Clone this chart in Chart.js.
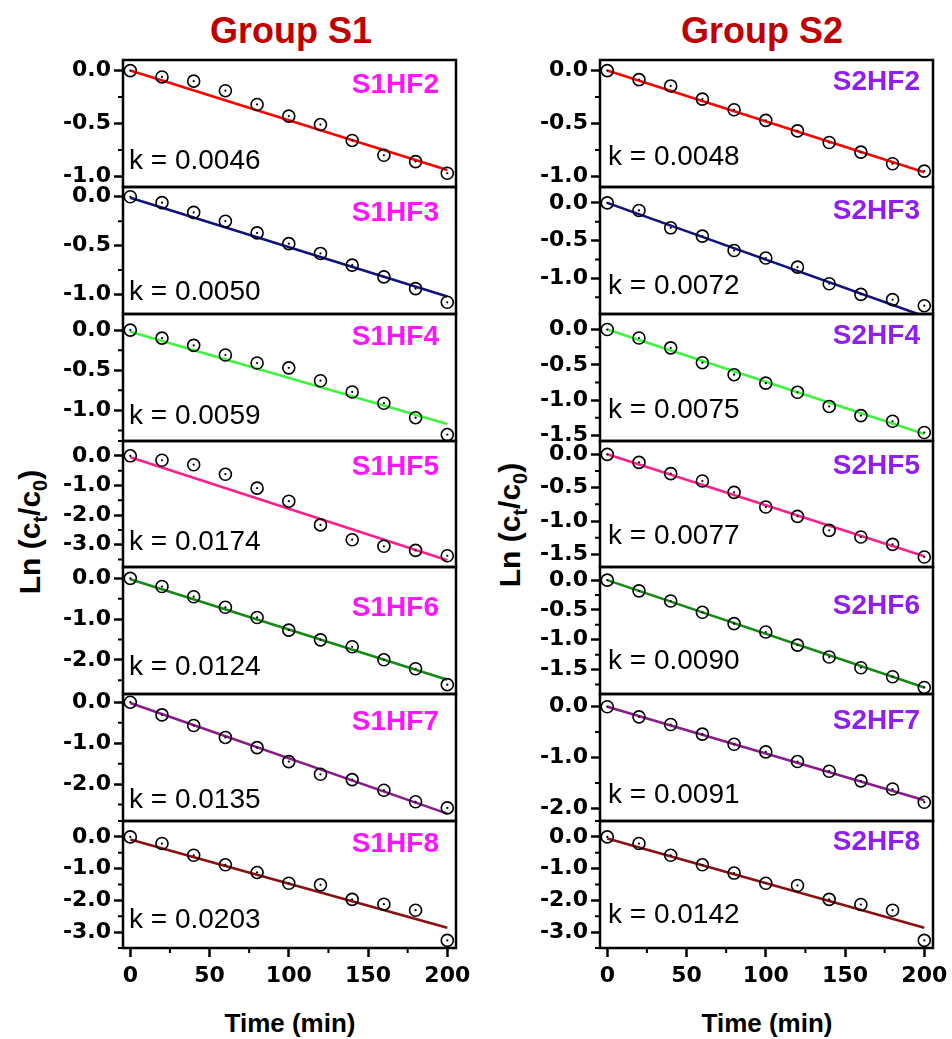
<!DOCTYPE html>
<html>
<head>
<meta charset="utf-8">
<script src="https://cdn.jsdelivr.net/npm/chart.js@4.4.1/dist/chart.umd.min.js"></script>
<style>
  body { margin: 0; background: #fff; }
  #wrap { position: relative; width: 952px; height: 1039px; overflow: hidden; font-family: "Liberation Sans", Arial, sans-serif; }
  #wrap canvas { position: absolute; }
  .group { position: absolute; width: 300px; text-align: center; color: #c00000; font-weight: bold; font-size: 36px; line-height: 36px; }
  .xtitle { position: absolute; width: 300px; text-align: center; font-weight: bold; font-size: 26px; line-height: 26px; }
  .ytitle { position: absolute; width: 240px; height: 40px; line-height: 40px; text-align: center; font-weight: bold; font-size: 30px; white-space: nowrap; transform: rotate(-90deg); }
  .ytitle sub { font-size: 20px; line-height: 0; }
</style>
</head>
<body>
<div id="wrap">
  <div class="group" style="left:141px; top:13px;">Group S1</div>
  <div class="group" style="left:612px; top:13px;">Group S2</div>
  <div class="xtitle" style="left:140px; top:1010px;">Time (min)</div>
  <div class="xtitle" style="left:617px; top:1010px;">Time (min)</div>
  <div class="ytitle" style="left:-90px; top:512px;">Ln (c<sub>t</sub>/c<sub>0</sub>)</div>
  <div class="ytitle" style="left:390px; top:505px;">Ln (c<sub>t</sub>/c<sub>0</sub>)</div>
</div>
<script>
// ---- data ----
const times = [0, 20, 40, 60, 80, 100, 120, 140, 160, 180, 200];
const fitTimes = [0, 200];
const xTicks = [0, 50, 100, 150, 200];
const xMinorTicks = [25, 75, 125, 175];

const s1Names = ["S1HF2", "S1HF3", "S1HF4", "S1HF5", "S1HF6", "S1HF7", "S1HF8"];
const s2Names = ["S2HF2", "S2HF3", "S2HF4", "S2HF5", "S2HF6", "S2HF7", "S2HF8"];
const s1K = ["0.0046", "0.0050", "0.0059", "0.0174", "0.0124", "0.0135", "0.0203"];
const s2K = ["0.0048", "0.0072", "0.0075", "0.0077", "0.0090", "0.0091", "0.0142"];

const s1hf2 = [0, -0.06, -0.10, -0.19, -0.32, -0.43, -0.51, -0.66, -0.80, -0.86, -0.97];
const s1hf3 = [0, -0.06, -0.16, -0.25, -0.37, -0.48, -0.58, -0.70, -0.82, -0.94, -1.08];
const s1hf4 = [0, -0.10, -0.19, -0.31, -0.41, -0.47, -0.63, -0.77, -0.91, -1.09, -1.30];
const s1hf5 = [0, -0.15, -0.30, -0.62, -1.09, -1.53, -2.33, -2.83, -3.05, -3.19, -3.37];
const s1hf6 = [0, -0.20, -0.45, -0.71, -0.96, -1.27, -1.51, -1.68, -2.00, -2.22, -2.61];
const s1hf7 = [0, -0.31, -0.57, -0.86, -1.11, -1.45, -1.76, -1.89, -2.15, -2.43, -2.58];
const s1hf8 = [0, -0.21, -0.58, -0.88, -1.12, -1.46, -1.51, -1.97, -2.12, -2.31, -3.26];

const s2hf2 = [0, -0.085, -0.145, -0.27, -0.37, -0.47, -0.57, -0.68, -0.77, -0.88, -0.95];
const s2hf3 = [0, -0.10, -0.33, -0.44, -0.63, -0.73, -0.85, -1.07, -1.21, -1.28, -1.36];
const s2hf4 = [0, -0.12, -0.26, -0.47, -0.64, -0.76, -0.89, -1.09, -1.22, -1.30, -1.46];
const s2hf5 = [0, -0.12, -0.29, -0.40, -0.57, -0.79, -0.93, -1.14, -1.24, -1.35, -1.54];
const s2hf6 = [0, -0.18, -0.35, -0.54, -0.73, -0.87, -1.09, -1.29, -1.47, -1.62, -1.80];
const s2hf7 = [0, -0.20, -0.35, -0.54, -0.74, -0.89, -1.08, -1.27, -1.46, -1.62, -1.88];
const s2hf8 = [0, -0.21, -0.58, -0.88, -1.14, -1.46, -1.53, -1.97, -2.13, -2.31, -3.26];

// fitted lines: value at t = 0 and t = 200
const s1FitStart = [0.00, -0.01, -0.02, -0.05, -0.02, -0.02, -0.08];
const s1FitEnd = [-0.94, -1.02, -1.17, -3.52, -2.49, -2.72, -2.86];
const s2FitStart = [0.00, 0.00, 0.00, 0.00, 0.00, 0.00, -0.05];
const s2FitEnd = [-0.96, -1.50, -1.48, -1.53, -1.80, -1.84, -2.86];

// y axis ranges and labelled ticks
const s1YMin = [-1.1, -1.2, -1.38, -3.75, -2.84, -2.9, -3.5];
const s1YMax = [0.1, 0.1, 0.2, 0.5, 0.28, 0.2, 0.5];
const s2YMin = [-1.1, -1.47, -1.58, -1.69, -1.91, -2.25, -3.5];
const s2YMax = [0.1, 0.21, 0.22, 0.2, 0.22, 0.25, 0.5];
const s1YTicks = [[0, -0.5, -1], [0, -0.5, -1], [0, -0.5, -1], [0, -1, -2, -3], [0, -1, -2], [0, -1, -2], [0, -1, -2, -3]];
const s2YTicks = [[0, -0.5, -1], [0, -0.5, -1], [0, -0.5, -1, -1.5], [0, -0.5, -1, -1.5], [0, -0.5, -1, -1.5], [0, -1, -2], [0, -1, -2, -3]];

const xMin = -4.6, xMax = 205.5;

// ---- styles / layout ----
const lineColors = ["#ff0000", "#10107f", "#3cf53c", "#ff1f8e", "#138a13", "#8a1a8a", "#8a0f0f"];
const nameColors = ["#ff14ff", "#8f1ff0"];
const nameDrop = [[33, 34, 31, 34, 49, 36, 31], [30, 32, 30, 33, 47, 35, 29]];
const kRise = [[18, 14, 17, 17, 19, 13, 20], [22, 20, 23, 23, 25, 18, 25]];

const panelTop = 60, panelH = 126.86;
const colLeft = [123, 600], colW = 333;
const pad = { left: 10, right: 34, top: 22, bottom: 22 };
const yAxisW = 90, xAxisH = 44;

const decor = {
  id: "decor",
  afterDraw(chart, args, o) {
    const { ctx, chartArea: a, scales } = chart;
    ctx.save();
    ctx.strokeStyle = "#000";
    ctx.lineWidth = 2;
    ctx.beginPath();
    o.yMinor.forEach(v => {
      const y = scales.y.getPixelForValue(v);
      ctx.moveTo(a.left - 5, y); ctx.lineTo(a.left, y);
    });
    if (o.bottom) {
      xMinorTicks.forEach(v => {
        const x = scales.x.getPixelForValue(v);
        ctx.moveTo(x, a.bottom); ctx.lineTo(x, a.bottom + 5);
      });
    }
    ctx.stroke();
    ctx.lineWidth = 2.5;
    ctx.strokeRect(a.left, a.top, a.right - a.left, a.bottom - a.top);

    ctx.textBaseline = "alphabetic";
    ctx.fillStyle = "#000";
    ctx.textAlign = "left";
    ctx.font = '28px "Liberation Sans"';
    ctx.fillText("k = " + o.k, a.left + (o.col ? 8 : 6), a.bottom - o.kRise);
    ctx.fillStyle = o.nameColor;
    ctx.textAlign = "right";
    ctx.font = 'bold 28px "Liberation Sans"';
    ctx.fillText(o.name, a.right - (o.col ? 13 : 17), a.top + o.nameDrop);
    ctx.restore();
  }
};

function minorTicks(majors, min, max) {
  const half = Math.abs(majors[0] - majors[1]) / 2;
  const out = [];
  for (let m = Math.ceil(min / half); m * half <= max; m++) {
    if (Math.abs(m % 2) === 1) out.push(m * half);
  }
  return out;
}

function addPanel(col, row, series, fitStart, fitEnd, yMin, yMax, yTicks, name, k) {
  const bottom = row === 6;
  const top = Math.round(panelTop + row * panelH);
  const bot = Math.round(panelTop + (row + 1) * panelH);
  const canvas = document.createElement("canvas");
  const w = pad.left + yAxisW + colW + pad.right;
  const h = pad.top + (bot - top) + pad.bottom + (bottom ? xAxisH : 0);
  canvas.width = w; canvas.height = h;
  canvas.style.left = (colLeft[col] - yAxisW - pad.left) + "px";
  canvas.style.top = (top - pad.top) + "px";
  canvas.style.width = w + "px"; canvas.style.height = h + "px";
  document.getElementById("wrap").appendChild(canvas);

  const pts = times.map((t, i) => ({ x: t, y: series[i] }));
  const fit = fitTimes.map((t, i) => ({ x: t, y: i === 0 ? fitStart : fitEnd }));

  new Chart(canvas, {
    type: "scatter",
    data: {
      datasets: [
        { data: pts, pointRadius: 6, pointBorderWidth: 1.6, pointBorderColor: "#000", pointBackgroundColor: "rgba(0,0,0,0)", showLine: false },
        { data: pts, pointRadius: 1.1, pointBorderWidth: 0, pointBackgroundColor: "#000", showLine: false },
        { data: fit, showLine: true, borderColor: lineColors[row], borderWidth: 2.6, pointRadius: 0, fill: false }
      ]
    },
    options: {
      responsive: false,
      animation: false,
      devicePixelRatio: 1,
      layout: { padding: pad },
      plugins: {
        legend: { display: false },
        tooltip: { enabled: false },
        decor: {
          col: col, bottom: bottom, k: k, name: name,
          nameColor: nameColors[col], nameDrop: nameDrop[col][row], kRise: kRise[col][row],
          yMinor: minorTicks(yTicks, yMin, yMax)
        }
      },
      scales: {
        x: {
          type: "linear", min: xMin, max: xMax, display: bottom,
          afterBuildTicks: s => { s.ticks = xTicks.map(v => ({ value: v })); },
          afterFit: s => { s.height = bottom ? xAxisH : 0; },
          border: { display: false },
          grid: { drawOnChartArea: false, tickLength: 9, tickWidth: 2.5, tickColor: "#000" },
          ticks: { color: "#000", padding: 6, maxRotation: 0, autoSkip: false, font: { family: "DejaVu Sans", weight: "bold", size: 22 } }
        },
        y: {
          type: "linear", min: yMin, max: yMax,
          afterBuildTicks: s => { s.ticks = yTicks.map(v => ({ value: v })); },
          afterFit: s => { s.width = yAxisW; },
          border: { display: false },
          grid: { drawOnChartArea: false, tickLength: 9, tickWidth: 2.5, tickColor: "#000" },
          ticks: { color: "#000", padding: 3, autoSkip: false, font: { family: "DejaVu Sans", weight: "bold", size: 22 }, callback: v => Number(v).toFixed(1) }
        }
      }
    },
    plugins: [decor]
  });
}

const s1Series = [s1hf2, s1hf3, s1hf4, s1hf5, s1hf6, s1hf7, s1hf8];
const s2Series = [s2hf2, s2hf3, s2hf4, s2hf5, s2hf6, s2hf7, s2hf8];

s1Series.forEach((s, r) => addPanel(0, r, s, s1FitStart[r], s1FitEnd[r], s1YMin[r], s1YMax[r], s1YTicks[r], s1Names[r], s1K[r]));
s2Series.forEach((s, r) => addPanel(1, r, s, s2FitStart[r], s2FitEnd[r], s2YMin[r], s2YMax[r], s2YTicks[r], s2Names[r], s2K[r]));
</script>
</body>
</html>
